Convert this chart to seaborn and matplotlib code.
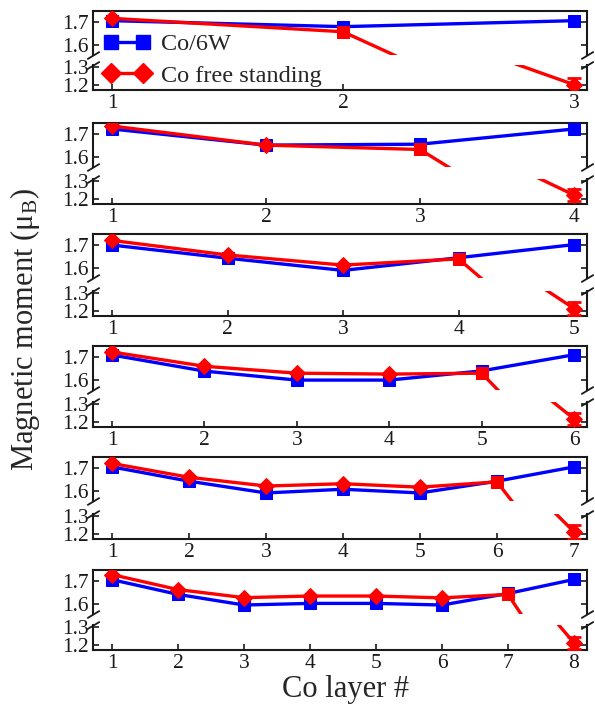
import matplotlib
matplotlib.use("Agg")
import matplotlib.pyplot as plt
import seaborn as sns
import numpy as np
import pandas as pd
from matplotlib.lines import Line2D

# ---------------- data ----------------
blue_3 = [1.706, 1.680, 1.706]
red_3 = [1.716, 1.658, 1.200]
blue_4 = [1.722, 1.652, 1.656, 1.722]
red_4 = [1.735, 1.652, 1.633, 1.220]
blue_5 = [1.700, 1.643, 1.590, 1.645, 1.702]
red_5 = [1.720, 1.657, 1.613, 1.640, 1.212]
blue_6 = [1.709, 1.639, 1.600, 1.600, 1.640, 1.710]
red_6 = [1.722, 1.660, 1.630, 1.626, 1.630, 1.216]
blue_7 = [1.705, 1.643, 1.592, 1.608, 1.592, 1.643, 1.705]
red_7 = [1.720, 1.660, 1.622, 1.632, 1.617, 1.640, 1.210]
blue_8 = [1.706, 1.642, 1.596, 1.603, 1.603, 1.596, 1.646, 1.707]
red_8 = [1.728, 1.663, 1.628, 1.635, 1.635, 1.627, 1.642, 1.210]
red_err = [0.04, 0.035, 0.035, 0.035, 0.04, 0.035]

blue_sets = [blue_3, blue_4, blue_5, blue_6, blue_7, blue_8]
red_sets = [red_3, red_4, red_5, red_6, red_7, red_8]

upper_ticks = [1.6, 1.7]
lower_ticks = [1.2, 1.3]
upper_tick_labels = ["1.6", "1.7"]
lower_tick_labels = ["1.2", "1.3"]
legend_labels = ["Co/6W", "Co free standing"]

# ---------------- style ----------------
sns.set_theme(style="ticks")
plt.rcParams["font.family"] = ["Liberation Serif", "DejaVu Serif"]
plt.rcParams["mathtext.fontset"] = "custom"
plt.rcParams["mathtext.rm"] = "Liberation Serif"
plt.rcParams["mathtext.it"] = "Liberation Serif:italic"

BLUE = "#0000ff"
RED = "#ff0000"
W, H = 595, 711
fig = plt.figure(figsize=(W / 100, H / 100), dpi=100)

tops = [11, 123, 234, 346, 457, 570]
bottoms = [90, 204, 316, 427, 539, 650]
x_left_px, x_right_px = 93, 587
TICK_FS = 15.5

def fig_rect(top_px, bot_px):
    return [x_left_px / W, 1 - bot_px / H, (x_right_px - x_left_px) / W, (bot_px - top_px) / H]

brk = dict(marker=[(-1, -0.6), (1, 0.6)], markersize=9, linestyle="none",
           color="k", mec="k", mew=1.3, clip_on=False)

for i, (blue, red) in enumerate(zip(blue_sets, red_sets)):
    n = len(blue)
    xs = np.arange(1, n + 1)
    T, B = tops[i], bottoms[i]
    ax_u = fig.add_axes(fig_rect(T, T + 44))
    ax_l = fig.add_axes(fig_rect(B - 25, B))
    span = (n - 1) / 462.0
    xlim = (1 - 19 * span, n + 13 * span)
    df = pd.DataFrame({"x": xs, "blue": blue, "red": red})
    for ax in (ax_u, ax_l):
        sns.lineplot(data=df, x="x", y="blue", ax=ax, color=BLUE, linewidth=2.4,
                     marker="s", markersize=8, markeredgecolor=BLUE, zorder=3)
        sns.lineplot(data=df, x="x", y="red", ax=ax, color=RED, linewidth=2.4,
                     marker="D", markersize=8.5, markeredgecolor=RED,
                     markevery=[k for k in range(n) if k != n - 2], zorder=4)
        sq = df.iloc[[n - 2]]
        sns.scatterplot(data=sq, x="x", y="red", ax=ax, color=RED, marker="s",
                        s=80, edgecolor=RED, zorder=5)
        ax.errorbar([n], [red[-1]], yerr=[red_err[i]], color=RED, capsize=5,
                    elinewidth=2, capthick=2, linestyle="none", zorder=4)
        ax.set_xlim(*xlim)
        ax.set_xlabel("")
        ax.set_ylabel("")
        for s in ax.spines.values():
            s.set_linewidth(1.5)
            s.set_color("k")
        ax.tick_params(axis="y", direction="in", left=True, right=True, length=4,
                       width=1.2, labelsize=TICK_FS, pad=3, colors="k")
    ax_u.set_ylim(1.557, 1.748)
    ax_l.set_ylim(1.17, 1.31)
    ax_u.set_yticks(upper_ticks)
    ax_u.set_yticklabels(upper_tick_labels)
    ax_l.set_yticks(lower_ticks)
    ax_l.set_yticklabels(lower_tick_labels)
    ax_u.spines["bottom"].set_visible(False)
    ax_l.spines["top"].set_visible(False)
    ax_u.tick_params(axis="x", bottom=False, top=False, labelbottom=False)
    ax_l.set_xticks(xs)
    ax_l.set_xticklabels([str(v) for v in xs])
    ax_l.tick_params(axis="x", direction="in", bottom=True, top=False, length=4,
                     width=1.2, labelsize=TICK_FS, pad=3, colors="k")
    ax_u.plot([0, 1], [0, 0], transform=ax_u.transAxes, **brk)
    ax_l.plot([0, 1], [1, 1], transform=ax_l.transAxes, **brk)

handles = [
    Line2D([], [], color=BLUE, linewidth=2.4, marker="s", markersize=9.5, mec=BLUE),
    Line2D([], [], color=RED, linewidth=2.4, marker="D", markersize=10.5, mec=RED),
]
fig.legend(handles, legend_labels, loc="center left",
           bbox_to_anchor=(104 / W, 1 - 60 / H), frameon=False, numpoints=2,
           fontsize=17.5, handlelength=1.9, handletextpad=0.45, labelspacing=0.38,
           borderpad=0, borderaxespad=0)

fig.text(345 / W, 1 - 690 / H, "Co layer #", ha="center", va="center", fontsize=22)
fig.text(25 / W, 1 - 330 / H, r"Magnetic moment ($\mathrm{\mu_B}$)", ha="center",
         va="center", rotation=90, fontsize=22)

fig.savefig("out.png", dpi=100)
